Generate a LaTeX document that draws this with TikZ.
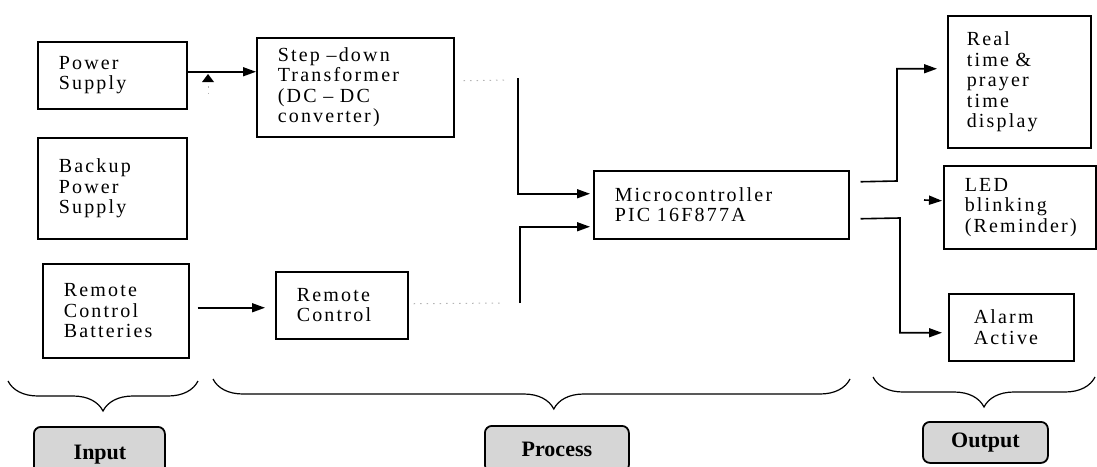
\documentclass[tikz,border=0pt]{standalone}
\usepackage{fontspec}
\setmainfont{Liberation Serif}
\newfontfamily\bdfont[LetterSpace=11]{Liberation Serif}
\usetikzlibrary{arrows.meta,calc,decorations.pathreplacing}
\definecolor{bdink}{HTML}{000000}
\definecolor{bdtag}{HTML}{D6D6D6}
\definecolor{bdfaint}{HTML}{B4B4B4}
\tikzset{
  bd box/.style={draw=bdink, line width=1.5pt, anchor=north west, align=left,
    inner xsep=21pt, inner ysep=0pt, font=\bdfont\fontsize{20}{20.5}\selectfont},
  bd arrow/.style={-{Triangle[length=13pt,width=9pt]}, line width=1.6pt, draw=bdink},
  bd faint/.style={draw=bdfaint, line width=1pt, dash pattern=on 1.5pt off 5pt},
  bd brace/.style={decorate, decoration={brace, mirror, amplitude=30pt},
    line width=1.2pt, draw=bdink},
  bd tag/.style={draw=bdink, line width=1.8pt, rounded corners=7pt, fill=bdtag,
    anchor=north west, font=\bfseries\fontsize{22}{24}\selectfont}
}
\begin{document}
\begin{tikzpicture}[x=1pt, y=-1pt]
  \useasboundingbox (0,0) rectangle (1097,466);
  % input column
  \node[bd box, text width=107pt, minimum height=67pt] (power) at (37,41) {Power\\Supply};
  \node[bd box, text width=107pt, minimum height=101pt] (backup) at (37,137) {Backup\\Power\\Supply};
  \node[bd box, text width=104pt, minimum height=94pt] (rcbat) at (42,263) {Remote\\Control\\Batteries};
  % process column
  \node[bd box, text width=155pt, minimum height=99pt] (stepdown) at (256,37)
    {Step –down\\Transformer\\(DC – DC\\converter)};
  \node[bd box, text width=90pt, minimum height=67pt] (remote) at (275,271) {Remote\\Control};
  \node[bd box, text width=213pt, minimum height=68pt] (micro) at (593,170)
    {Microcontroller\\PIC 16F877A};
  % output column
  \node[bd box, text width=105pt, minimum height=132pt, inner xsep=19pt] (realtime) at (947,15)
    {Real\\time \&\\prayer\\time\\display};
  \node[bd box, text width=110pt, minimum height=83pt] (led) at (943,165)
    {LED\\blinking\\(Reminder)};
  \node[bd box, text width=75pt, minimum height=67pt, inner xsep=25pt] (alarm) at (948,293) {Alarm\\Active};

  % connectors
  \coordinate (psout) at ($(power.east)+(0,-3.5)$);
  \draw[bd arrow] (psout) -- (psout -| stepdown.west);
  \fill[bdink] (202,82) -- (214,82) -- (208,74) -- cycle;
  \draw[bd faint] (208,86) -- (208,97);
  \coordinate (rcout) at ($(rcbat.east)+(8,-3)$);
  \draw[bd arrow] (rcout) -- ($(rcout -| remote.west)+(-10,0)$);

  \coordinate (upjoin) at (518,78);
  \coordinate (lowjoin) at (520,303);
  \draw[bd faint] ($(stepdown.east)+(9,-6.5)$) -- ($(upjoin)+(-12,2)$);
  \draw[bd faint] ($(remote.east)+(5,-1.5)$) -- ($(lowjoin)+(-18,0)$);
  \draw[bd arrow] (upjoin) |- ($(micro.west)+(-3,-11)$);
  \draw[bd arrow] (lowjoin) |- ($(micro.west)+(-3,22)$);

  \coordinate (rtknee) at (897,181);
  \coordinate (alknee) at (900,218);
  \coordinate (ledtail) at (924,200);
  \draw[bd arrow] ($(micro.east)+(11,-23)$) -- (rtknee) |- ($(realtime.west)+(-10,-13)$);
  \draw[bd arrow] ($(micro.east)+(11,14)$) -- (alknee) |- ($(alarm.west)+(-6,5.5)$);
  \draw[bd arrow] (ledtail) -- ($(led.west)+(-1,-6.5)$);

  % braces and tags
  \draw[bd brace] (8,381) -- (198,381);
  \draw[bd brace, decoration={aspect=0.535}] (213,379) -- (850,379);
  \draw[bd brace] (873,377) -- (1095,377);
  \node[bd tag, minimum width=131pt, minimum height=60pt] (inputtag) at (33,426) {};
  \node[font=\bfseries\fontsize{22}{24}\selectfont] (inputtxt) at (100,455) {Input};
  \node[bd tag, minimum width=144pt, minimum height=46pt] (processtag) at (484,425) {Process};
  \node[bd tag, minimum width=125pt, minimum height=41pt] (outputtag) at (922,421) {Output};
\end{tikzpicture}
\end{document}
